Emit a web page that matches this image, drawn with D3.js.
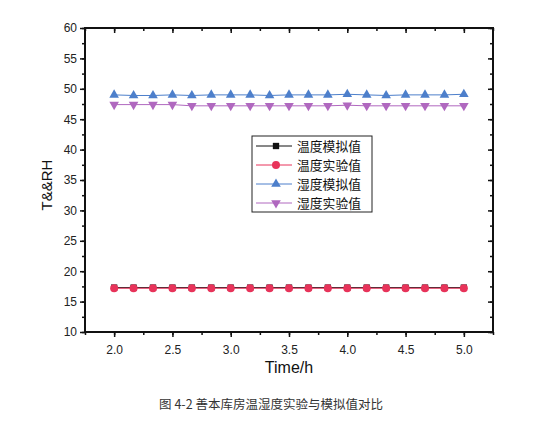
<!DOCTYPE html>
<html>
<head>
<meta charset="utf-8">
<script src="https://cdn.jsdelivr.net/npm/d3@7"></script>
<style>
  body { margin: 0; background: #fff; }
  svg text { font-family: "Liberation Sans", Arial, sans-serif; }
</style>
</head>
<body>
<div id="my_dataviz"></div>
<script>
// time points (h)
var times = [2.0, 2.1667, 2.3333, 2.5, 2.6667, 2.8333, 3.0, 3.1667, 3.3333, 3.5,
             3.6667, 3.8333, 4.0, 4.1667, 4.3333, 4.5, 4.6667, 4.8333, 5.0];
var tempSim = [17.3, 17.3, 17.3, 17.3, 17.3, 17.3, 17.3, 17.3, 17.3, 17.3,
               17.3, 17.3, 17.3, 17.3, 17.3, 17.3, 17.3, 17.3, 17.3];
var tempExp = [17.2, 17.2, 17.2, 17.2, 17.2, 17.2, 17.2, 17.2, 17.2, 17.2,
               17.2, 17.2, 17.2, 17.2, 17.2, 17.2, 17.2, 17.2, 17.2];
var rhSim = [49.0, 48.9, 48.9, 49.0, 48.9, 49.0, 49.0, 49.0, 48.9, 49.0,
             49.0, 49.0, 49.1, 49.0, 48.9, 49.0, 49.0, 49.0, 49.1];
var rhExp = [47.4, 47.4, 47.4, 47.4, 47.2, 47.2, 47.2, 47.2, 47.2, 47.2,
             47.2, 47.2, 47.3, 47.2, 47.2, 47.2, 47.2, 47.2, 47.2];
var seriesNames = ["温度模拟值", "温度实验值", "湿度模拟值", "湿度实验值"];
var xTicks = [2.0, 2.5, 3.0, 3.5, 4.0, 4.5, 5.0];
var yTicks = [10, 15, 20, 25, 30, 35, 40, 45, 50, 55, 60];

var W = 558, H = 428;
var margin = {top: 28, right: 65, bottom: 96, left: 85},
    width = W - margin.left - margin.right,
    height = H - margin.top - margin.bottom;

var x = d3.scaleLinear().domain([1.75, 5.25]).range([0, width]);
var y = d3.scaleLinear().domain([10, 60]).range([height, 0]);

var svg = d3.select("#my_dataviz").append("svg")
    .attr("width", W).attr("height", H);
var g = svg.append("g")
    .attr("transform", "translate(" + margin.left + "," + margin.top + ")");

var xMinor = d3.range(1.75, 5.26, 0.25);
var yMinor = d3.range(10, 60.1, 2.5);

// minor ticks
function minor(sel, axis) {
  sel.call(axis).call(function(s) {
    s.select(".domain").remove();
    s.selectAll("text").remove();
    s.selectAll("line").attr("stroke", "#111").attr("stroke-width", 1.3);
  });
}
g.append("g").attr("transform", "translate(0," + height + ")")
  .call(minor, d3.axisBottom(x).tickValues(xMinor).tickSize(3));
g.append("g").call(minor, d3.axisTop(x).tickValues(xMinor).tickSize(-3));
g.append("g").call(minor, d3.axisLeft(y).tickValues(yMinor).tickSize(3));
g.append("g").attr("transform", "translate(" + width + ",0)")
  .call(minor, d3.axisRight(y).tickValues(yMinor).tickSize(-3));

// major ticks + labels
var xAxis = g.append("g").attr("transform", "translate(0," + height + ")")
  .call(d3.axisBottom(x).tickValues(xTicks).tickFormat(d3.format(".1f")).tickSize(5).tickPadding(8));
var yAxis = g.append("g")
  .call(d3.axisLeft(y).tickValues(yTicks).tickSize(5).tickPadding(3));
g.append("g").call(d3.axisTop(x).tickValues(xTicks).tickSize(-5).tickFormat(""));
g.append("g").attr("transform", "translate(" + width + ",0)")
  .call(d3.axisRight(y).tickValues(yTicks).tickSize(-5).tickFormat(""));

g.selectAll(".domain").remove();
g.selectAll(".tick line").attr("stroke", "#111").attr("stroke-width", 1.5);
[xAxis, yAxis].forEach(function(a) {
  a.selectAll("text").style("font-size", "12px").attr("fill", "#222")
    .style("font-family", "'Liberation Sans', Arial, sans-serif");
});

// frame
g.append("rect").attr("width", width).attr("height", height)
  .attr("fill", "none").attr("stroke", "#111").attr("stroke-width", 2);

// series
var colors = ["#111111", "#e8335a", "#4d7fcb", "#b068bf"];
var allSeries = [tempSim, tempExp, rhSim, rhExp];
var shapes = [d3.symbolSquare, d3.symbolCircle, d3.symbolTriangle, d3.symbolTriangle];
var sizes = [40, 50, 40, 40];

var line = d3.line().x(function(d) { return x(d[0]); }).y(function(d) { return y(d[1]); });

allSeries.forEach(function(vals, i) {
  var pts = times.map(function(t, j) { return [t, vals[j]]; });
  g.append("path").datum(pts)
    .attr("fill", "none").attr("stroke", colors[i]).attr("stroke-width", 1)
    .attr("d", line);
  g.selectAll(".m" + i).data(pts).enter().append("path")
    .attr("class", "m" + i)
    .attr("d", d3.symbol().type(shapes[i]).size(sizes[i]))
    .attr("fill", colors[i])
    .attr("transform", function(d) {
      return "translate(" + x(d[0]) + "," + y(d[1]) + ")" + (i === 3 ? " rotate(180)" : "");
    });
});

// legend
var lg = svg.append("g").attr("transform", "translate(252,136)");
lg.append("rect").attr("width", 120).attr("height", 76)
  .attr("fill", "#fff").attr("stroke", "#222").attr("stroke-width", 1);
seriesNames.forEach(function(name, i) {
  var cy = 10 + i * 19;
  lg.append("line").attr("x1", 4).attr("x2", 40).attr("y1", cy).attr("y2", cy)
    .attr("stroke", colors[i]).attr("stroke-width", 1);
  lg.append("path")
    .attr("d", d3.symbol().type(shapes[i]).size(sizes[i])())
    .attr("fill", colors[i])
    .attr("transform", "translate(24," + cy + ")" + (i === 3 ? " rotate(180)" : ""));
  lg.append("text").attr("x", 45).attr("y", cy + 4.5)
    .text(name)
    .style("font-family", "'Noto Sans CJK SC', sans-serif")
    .style("font-size", "12.8px").attr("fill", "#111");
});

// axis titles
svg.append("text")
  .attr("x", margin.left + x(3.5)).attr("y", 373)
  .attr("text-anchor", "middle")
  .style("font-size", "16px").attr("fill", "#111")
  .text("Time/h");
svg.append("text")
  .attr("transform", "translate(52,185) rotate(-90)")
  .attr("text-anchor", "middle")
  .style("font-size", "15px").attr("fill", "#111")
  .text("T&&RH");

// caption
svg.append("text")
  .attr("x", 271).attr("y", 409)
  .attr("text-anchor", "middle")
  .style("font-family", "'Noto Sans CJK SC', sans-serif")
  .style("font-size", "12.5px").attr("fill", "#333")
  .text("图 4-2 善本库房温湿度实验与模拟值对比");
</script>
</body>
</html>
